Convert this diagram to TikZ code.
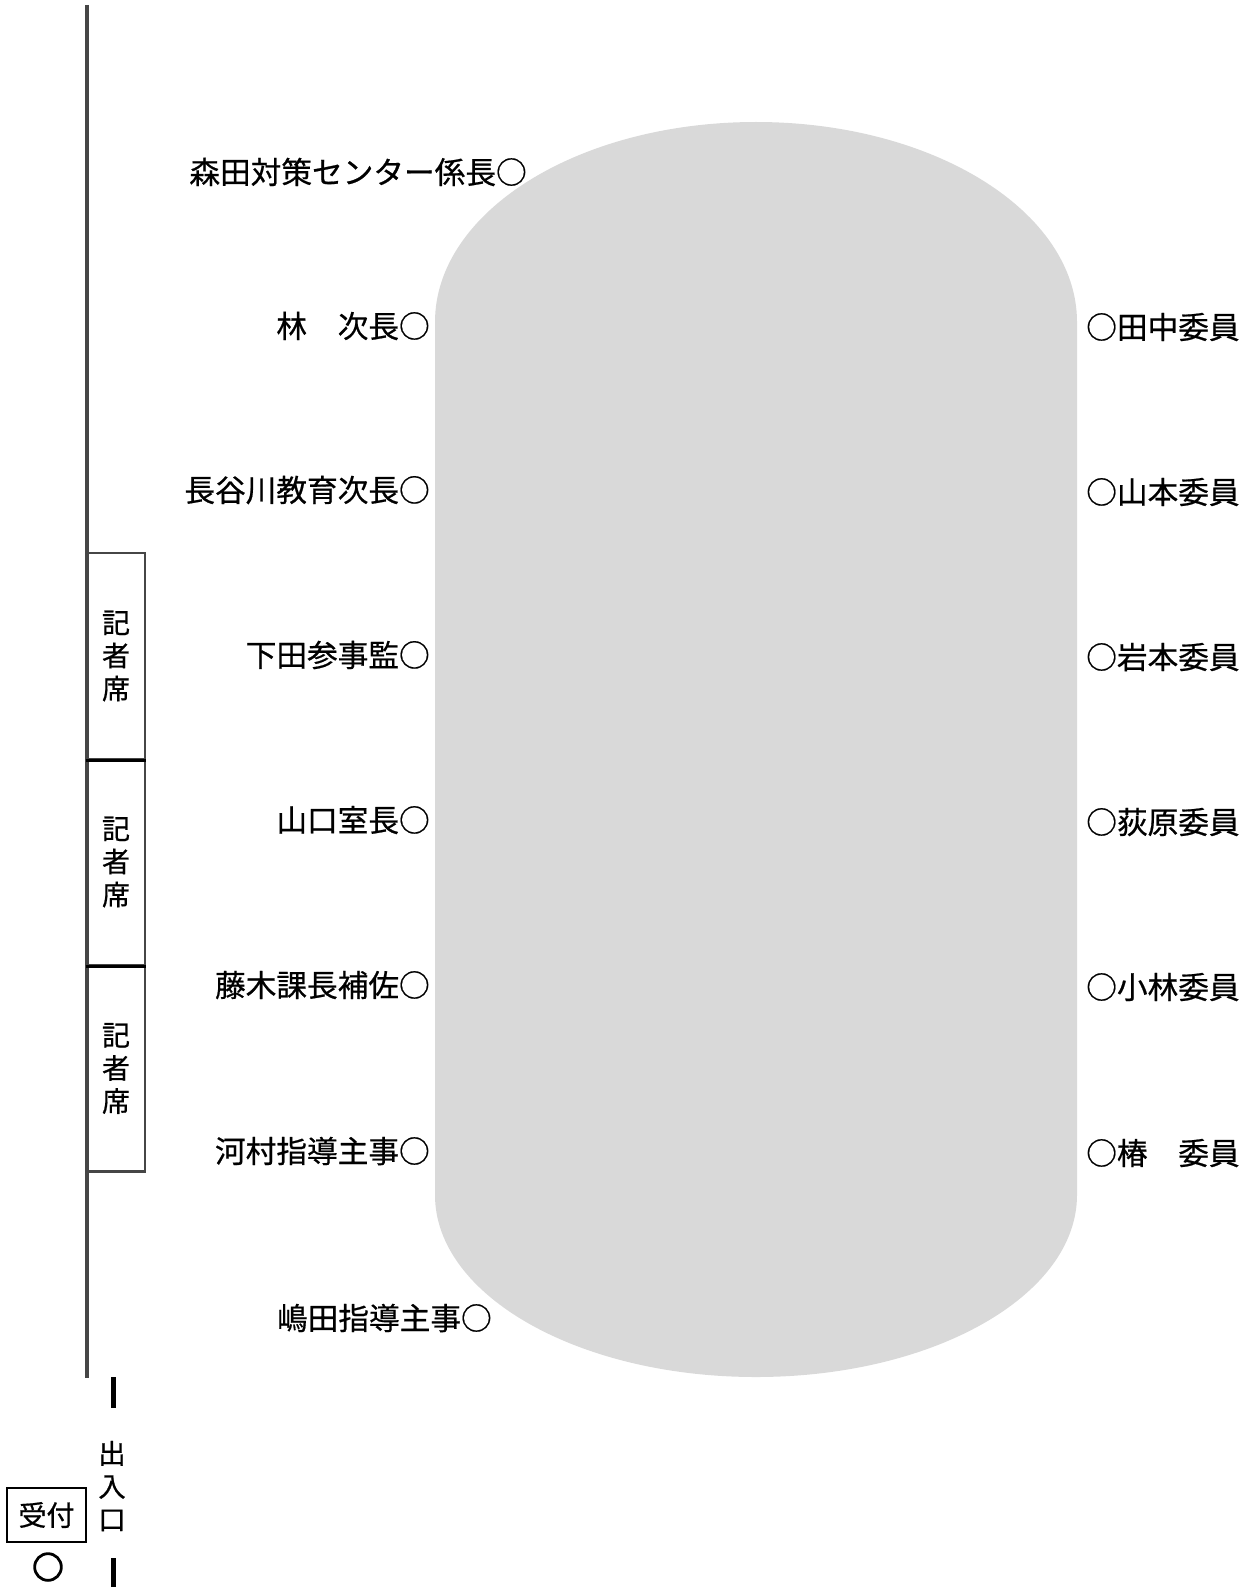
\documentclass[tikz,border=0pt]{standalone}
\usepackage{fontspec}
\setmainfont{Noto Sans CJK JP}[FakeBold=0.6]
\definecolor{tablegray}{RGB}{217,217,217}
\definecolor{wallgray}{RGB}{70,70,70}
\tikzset{
  lbl/.style={inner sep=0pt, font=\fontsize{23pt}{24.75pt}\selectfont},
  lleft/.style={lbl, anchor=east},
  lright/.style={lbl, anchor=west},
  seat/.style={draw=wallgray, line width=2.2pt, minimum width=43.5pt, minimum height=154.5pt, inner sep=0pt, align=center, font=\fontsize{21pt}{24.75pt}\selectfont},
  vtext/.style={inner sep=0pt, align=center, font=\fontsize{20.5pt}{24.75pt}\selectfont},
  exitbar/.style={line width=3.75pt, black},
}
\begin{document}
\begin{tikzpicture}[x=0.75pt,y=-0.75pt]
\useasboundingbox (0,0) rectangle (1253,1587);
% table
\fill[tablegray] (435,322) arc[x radius=321, y radius=200, start angle=180, end angle=360]
  -- (1077,1195) arc[x radius=321, y radius=182, start angle=0, end angle=180] -- cycle;
% wall
\coordinate (walltop) at (87,5);
\coordinate (wallbot) at (87,1378);
\draw[wallgray, line width=2.4pt] (walltop) -- (wallbot);
% press seats
\node[seat] (s1) at (116,656) {記\\者\\席};
\node[seat] (s2) at (116,862) {記\\者\\席};
\node[seat] (s3) at (116,1068.5) {記\\者\\席};
\draw[black, line width=1.9pt] (s1.south west) -- (s1.south east);
\draw[black, line width=1.9pt] (s2.south west) -- (s2.south east);
% exit
\coordinate (e1a) at (113,1377);
\coordinate (e1b) at (113,1408);
\coordinate (e2a) at (113,1558);
\coordinate (e2b) at (113,1587);
\draw[exitbar] (e1a) -- (e1b);
\draw[exitbar] (e2a) -- (e2b);
\node[vtext] (exit) at (112,1486) {出\\入\\口};
% reception
\node[draw=black, line width=1.9pt, minimum width=59pt, minimum height=40.5pt, inner sep=0pt, font=\fontsize{21pt}{24pt}\selectfont] (uke) at (46.5,1515) {受付};
\node[draw=black, circle, line width=2.1pt, minimum size=20pt, inner sep=0pt] (ukec) at (48,1567) {};
% left labels
\node[lleft] (a1) at (527,172) {森田対策センター係長○};
\node[lleft] (a2) at (430,326) {林　次長○};
\node[lleft] (a3) at (430,490) {長谷川教育次長○};
\node[lleft] (a4) at (430,655) {下田参事監○};
\node[lleft] (a5) at (430,820) {山口室長○};
\node[lleft] (a6) at (430,985) {藤木課長補佐○};
\node[lleft] (a7) at (430,1151) {河村指導主事○};
\node[lleft] (a8) at (492,1318) {嶋田指導主事○};
% right labels
\node[lright] (b1) at (1086,327) {○田中委員};
\node[lright] (b2) at (1086,492) {○山本委員};
\node[lright] (b3) at (1086,657) {○岩本委員};
\node[lright] (b4) at (1086,822) {○荻原委員};
\node[lright] (b5) at (1086,987) {○小林委員};
\node[lright] (b6) at (1086,1153) {○椿　委員};
\end{tikzpicture}
\end{document}
